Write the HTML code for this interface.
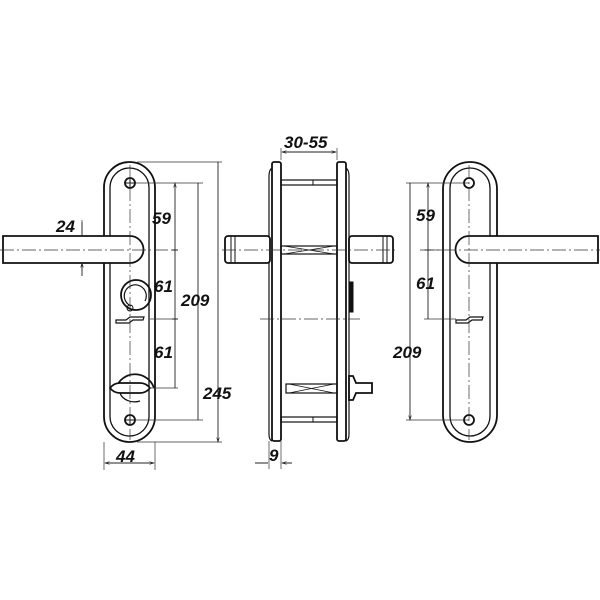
<!DOCTYPE html>
<html><head><style>html,body{margin:0;padding:0;background:#fff}svg{display:block}
text{font-family:"Liberation Sans",sans-serif;font-weight:bold;font-style:italic;font-size:17px;fill:#111}</style></head>
<body>
<svg width="600" height="600" viewBox="0 0 600 600" xmlns="http://www.w3.org/2000/svg">
<defs>
<marker id="a" viewBox="0 0 10 10" refX="10" refY="5" markerWidth="7" markerHeight="5" orient="auto-start-reverse"><path d="M0,2 L10,5 L0,8" fill="none" stroke="#222" stroke-width="1.2"/></marker>
</defs>
<g fill="none" stroke="#111" stroke-width="1.8">
<rect x="104" y="162" width="51" height="280" rx="25.5"/>
<rect x="110" y="168" width="39" height="268" rx="19.5" stroke-width="1.3"/>
<circle cx="130" cy="183" r="5"/><path d="M125,183h10M130,178v10" stroke-width="1"/>
<circle cx="130" cy="420" r="5"/><path d="M125,420h10M130,415v10" stroke-width="1"/>
<path d="M3,236 H130 A13.5,13.5 0 0 1 130,263 H3 Z" fill="#fff"/>
<circle cx="136" cy="295" r="15"/>
<path d="M131,306 A11,11 0 1 1 145,301" stroke-width="1.2"/>
<circle cx="130" cy="308" r="3" stroke-width="1"/>
<path d="M116,320 h10 l4,-3 h14 l-1,3 h-10 l-4,3 h-13 z" stroke-width="1.2"/>
<path d="M116,388 a20,20 0 0 1 38,0" />
<path d="M110,388 q4,-5 10,-5 h20 q6,0 10,5 q-4,5 -10,5 h-20 q-6,0 -10,-5 z" fill="#fff"/>
<path d="M120,393 a15,12 0 0 0 20,8" stroke-width="1.2"/>
<rect x="272" y="162" width="9" height="279" rx="2"/>
<path d="M272,168 q-3,2 -3,8 v258 q0,6 3,7" stroke-width="1.2"/>
<rect x="337" y="162" width="9" height="279" rx="2"/>
<path d="M346,168 q3,2 3,8 v258 q0,6 -3,7" stroke-width="1.2"/>
<rect x="225" y="236" width="45" height="27" rx="3" fill="#fff"/>
<path d="M231,236v27M235,236v27" stroke-width="1"/>
<rect x="349" y="236" width="44" height="27" rx="3" fill="#fff"/>
<path d="M383,236v27M387,236v27" stroke-width="1"/>
<rect x="281" y="180" width="56" height="5" stroke-width="1.2"/><path d="M313,180v5" stroke-width="1"/>
<rect x="281" y="417" width="56" height="5" stroke-width="1.2"/><path d="M313,417v5" stroke-width="1"/>
<rect x="281" y="246" width="56" height="8" stroke-width="1.2"/>
<path d="M284,246 l50,8 M284,254 l50,-8" stroke-width="0.7"/>
<rect x="286" y="384" width="51" height="9" stroke-width="1.2"/>
<path d="M289,384 l45,9 M289,393 l45,-9" stroke-width="0.7"/>
<rect x="349" y="282" width="4" height="30" fill="#111" stroke-width="1"/>
<path d="M349,376 l4,0 l3,7 h16 v10 h-16 l-3,7 h-4 z" fill="#fff"/>
<rect x="443" y="162" width="54" height="280" rx="27"/>
<rect x="450" y="168" width="40" height="268" rx="20" stroke-width="1.3"/>
<circle cx="469" cy="183" r="5"/>
<circle cx="469" cy="420" r="5"/>
<path d="M598,236 H469 A13.5,13.5 0 0 0 469,263 H598 Z" fill="#fff"/>
<path d="M456,320 h10 l4,-3 h13 l-1,3 h-10 l-4,3 h-12 z" stroke-width="1.2"/>
</g>
<g fill="none" stroke="#333" stroke-width="0.7">
<path d="M130,165v275M0,250h178M469,165v275M420,250h180M222,250h175M260,319h100" stroke-dasharray="14,3,2,3"/>
<path d="M137,162h85M135,183h68M150,319h28M150,388h28M135,420h68M137,442h85"/>
<path d="M104,442v28M155,442v28M82,220v17M82,263v8"/>
<path d="M281,160v-12M337,160v-12M269,441v28M281,441v28"/>
<path d="M469,183h-63M469,420h-63M456,319h-32M443,250h-19"/>
</g>
<g stroke="#222" stroke-width="0.9" fill="none">
<path d="M175,183V388M198,183V420M218,162V442" marker-start="url(#a)" marker-end="url(#a)"/>
<path d="M105,463H154" marker-start="url(#a)" marker-end="url(#a)"/>
<path d="M282,152H336" marker-start="url(#a)" marker-end="url(#a)"/>
<path d="M255,463H268M292,463H282" marker-end="url(#a)"/>
<path d="M82,222V236M82,276V263" marker-end="url(#a)"/>
<path d="M428,183V319M410,183V420" marker-start="url(#a)" marker-end="url(#a)"/>
<path d="M172,250h6M172,319h6M425,250h6"/>
</g>
<text x="56" y="232">24</text>
<text x="152" y="224">59</text>
<text x="154" y="292">61</text>
<text x="154" y="358">61</text>
<text x="181" y="306">209</text>
<text x="203" y="399">245</text>
<text x="116" y="462">44</text>
<text x="284" y="148">30-55</text>
<text x="269" y="461">9</text>
<text x="416" y="221">59</text>
<text x="416" y="289">61</text>
<text x="393" y="358">209</text>
</svg>
</body></html>
